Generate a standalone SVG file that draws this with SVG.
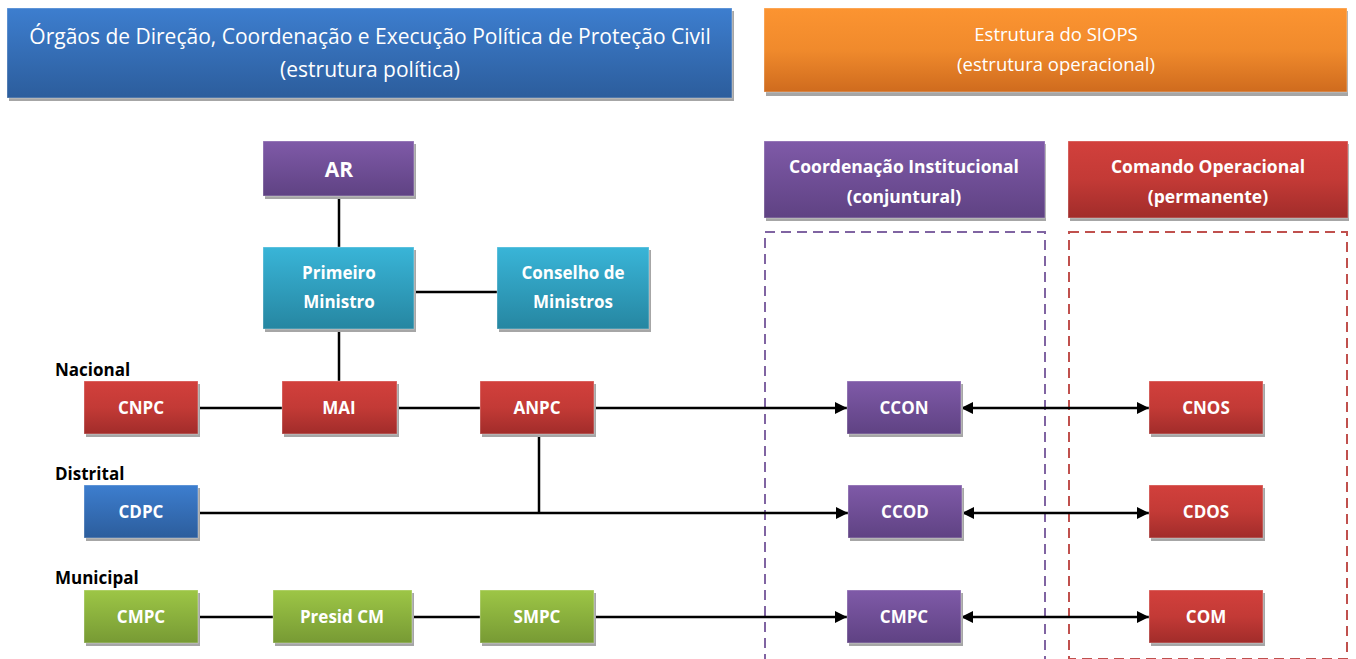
<svg xmlns="http://www.w3.org/2000/svg" width="1356" height="659" viewBox="0 0 1356 659">
  <defs>
    <linearGradient id="gRed" x1="0" y1="0" x2="0" y2="1">
      <stop offset="0" stop-color="#d2403c"/><stop offset="0.5" stop-color="#c33a36"/><stop offset="1" stop-color="#a12c2a"/>
    </linearGradient>
    <linearGradient id="gPurple" x1="0" y1="0" x2="0" y2="1">
      <stop offset="0" stop-color="#7f5aa8"/><stop offset="1" stop-color="#5f4283"/>
    </linearGradient>
    <linearGradient id="gBlue" x1="0" y1="0" x2="0" y2="1">
      <stop offset="0" stop-color="#3d7ecf"/><stop offset="1" stop-color="#2c5d9c"/>
    </linearGradient>
    <linearGradient id="gTeal" x1="0" y1="0" x2="0" y2="1">
      <stop offset="0" stop-color="#39b5d8"/><stop offset="1" stop-color="#2686a1"/>
    </linearGradient>
    <linearGradient id="gGreen" x1="0" y1="0" x2="0" y2="1">
      <stop offset="0" stop-color="#9dc646"/><stop offset="1" stop-color="#779a34"/>
    </linearGradient>
    <linearGradient id="gOrange" x1="0" y1="0" x2="0" y2="1">
      <stop offset="0" stop-color="#fc9431"/><stop offset="0.5" stop-color="#f08a2c"/><stop offset="1" stop-color="#cf6b1e"/>
    </linearGradient>
    <marker id="arrow" viewBox="0 0 12 12" refX="12" refY="6" markerWidth="12" markerHeight="12" markerUnits="userSpaceOnUse" orient="auto-start-reverse">
      <path d="M0,0 L12,6 L0,12 Z" fill="#000"/>
    </marker>
  </defs>
  <style>
    .shadow { fill: #a6a6a6; }
    .box { stroke: rgba(255,255,255,0.35); stroke-width: 1; }
    .t { font-family: "Open Sans", "Liberation Sans", sans-serif; fill: #fff; text-anchor: middle; }
    .b { font-weight: bold; }
    .lbl { font-family: "Open Sans", "Liberation Sans", sans-serif; font-weight: bold; font-size: 17px; fill: #000; }
    .ln { stroke: #000; stroke-width: 2.5; fill: none; }
    .ar { stroke: #000; stroke-width: 2.5; fill: none; marker-end: url(#arrow); }
    .bi { stroke: #000; stroke-width: 2.5; fill: none; marker-end: url(#arrow); marker-start: url(#arrow); }
  </style>

  <rect width="1356" height="659" fill="#fff"/>

  <!-- section frames -->
  <g id="frames">
    <rect x="765" y="232" width="280" height="440" fill="none" stroke="#8064a2" stroke-width="2" stroke-dasharray="10 6"/>
    <rect x="1069" y="232" width="278" height="427" fill="none" stroke="#c0504d" stroke-width="2" stroke-dasharray="10 6"/>
  </g>

  <!-- connectors -->
  <g id="connectors">
    <line class="ln" x1="339" y1="196" x2="339" y2="247"/>
    <line class="ln" x1="414" y1="292" x2="497" y2="292"/>
    <line class="ln" x1="339" y1="329" x2="339" y2="381"/>
    <line class="ln" x1="198" y1="408" x2="282" y2="408"/>
    <line class="ln" x1="397" y1="408" x2="480" y2="408"/>
    <line class="ar" x1="594" y1="408" x2="847" y2="408"/>
    <line class="ln" x1="539" y1="434" x2="539" y2="513"/>
    <line class="ar" x1="198" y1="513" x2="848" y2="513"/>
    <line class="ln" x1="198" y1="617" x2="273" y2="617"/>
    <line class="ln" x1="412" y1="617" x2="480" y2="617"/>
    <line class="ar" x1="594" y1="617" x2="847" y2="617"/>
    <line class="bi" x1="961" y1="408" x2="1149" y2="408"/>
    <line class="bi" x1="962" y1="513" x2="1149" y2="513"/>
    <line class="bi" x1="961" y1="617" x2="1149" y2="617"/>
  </g>

  <!-- headers -->
  <g id="hdr-politica">
    <rect class="shadow" x="9" y="11" width="725" height="90"/>
    <rect class="box" x="7" y="8" width="725" height="90" fill="url(#gBlue)"/>
    <text class="t" x="370" y="44" font-size="21">Órgãos de Direção, Coordenação e Execução Política de Proteção Civil</text>
    <text class="t" x="370" y="77" font-size="21">(estrutura política)</text>
  </g>
  <g id="hdr-siops">
    <rect class="shadow" x="766" y="11" width="582" height="85"/>
    <rect class="box" x="764" y="8" width="583" height="84" fill="url(#gOrange)"/>
    <text class="t" x="1056" y="41" font-size="18.5">Estrutura do SIOPS</text>
    <text class="t" x="1056" y="71" font-size="18.5">(estrutura operacional)</text>
  </g>
  <g id="hdr-coord">
    <rect class="shadow" x="766" y="144" width="280" height="77"/>
    <rect class="box" x="764" y="141" width="281" height="77" fill="url(#gPurple)"/>
    <text class="t b" x="904" y="173" font-size="17.5">Coordenação Institucional</text>
    <text class="t b" x="904" y="203" font-size="17.5">(conjuntural)</text>
  </g>
  <g id="hdr-comando">
    <rect class="shadow" x="1070" y="144" width="279" height="77"/>
    <rect class="box" x="1068" y="141" width="280" height="77" fill="url(#gRed)"/>
    <text class="t b" x="1208" y="173" font-size="17.5">Comando Operacional</text>
    <text class="t b" x="1208" y="203" font-size="17.5">(permanente)</text>
  </g>

  <!-- level labels -->
  <text class="lbl" x="55" y="376">Nacional</text>
  <text class="lbl" x="55" y="480">Distrital</text>
  <text class="lbl" x="55" y="584">Municipal</text>

  <!-- political nodes -->
  <g id="n-ar">
    <rect class="shadow" x="265" y="144" width="151" height="55"/>
    <rect class="box" x="263" y="141" width="151" height="55" fill="url(#gPurple)"/>
    <text class="t b" x="339" y="177" font-size="21">AR</text>
  </g>
  <g id="n-pm">
    <rect class="shadow" x="265" y="250" width="151" height="82"/>
    <rect class="box" x="263" y="247" width="151" height="82" fill="url(#gTeal)"/>
    <text class="t b" x="339" y="279" font-size="17">Primeiro</text>
    <text class="t b" x="339" y="308" font-size="17">Ministro</text>
  </g>
  <g id="n-cm">
    <rect class="shadow" x="499" y="250" width="152" height="82"/>
    <rect class="box" x="497" y="247" width="152" height="82" fill="url(#gTeal)"/>
    <text class="t b" x="573" y="279" font-size="17">Conselho de</text>
    <text class="t b" x="573" y="308" font-size="17">Ministros</text>
  </g>
  <g id="n-cnpc">
    <rect class="shadow" x="86" y="384" width="114" height="53"/>
    <rect class="box" x="84" y="381" width="114" height="53" fill="url(#gRed)"/>
    <text class="t b" x="141" y="414" font-size="17">CNPC</text>
  </g>
  <g id="n-mai">
    <rect class="shadow" x="284" y="384" width="115" height="53"/>
    <rect class="box" x="282" y="381" width="115" height="53" fill="url(#gRed)"/>
    <text class="t b" x="339" y="414" font-size="17">MAI</text>
  </g>
  <g id="n-anpc">
    <rect class="shadow" x="482" y="384" width="114" height="53"/>
    <rect class="box" x="480" y="381" width="114" height="53" fill="url(#gRed)"/>
    <text class="t b" x="537" y="414" font-size="17">ANPC</text>
  </g>
  <g id="n-cdpc">
    <rect class="shadow" x="86" y="488" width="114" height="53"/>
    <rect class="box" x="84" y="485" width="114" height="53" fill="url(#gBlue)"/>
    <text class="t b" x="141" y="518" font-size="17">CDPC</text>
  </g>
  <g id="n-cmpc">
    <rect class="shadow" x="86" y="593" width="114" height="53"/>
    <rect class="box" x="84" y="590" width="114" height="53" fill="url(#gGreen)"/>
    <text class="t b" x="141" y="623" font-size="17">CMPC</text>
  </g>
  <g id="n-presid">
    <rect class="shadow" x="275" y="593" width="139" height="53"/>
    <rect class="box" x="273" y="590" width="139" height="53" fill="url(#gGreen)"/>
    <text class="t b" x="342" y="623" font-size="17">Presid CM</text>
  </g>
  <g id="n-smpc">
    <rect class="shadow" x="482" y="593" width="114" height="53"/>
    <rect class="box" x="480" y="590" width="114" height="53" fill="url(#gGreen)"/>
    <text class="t b" x="537" y="623" font-size="17">SMPC</text>
  </g>

  <!-- operational nodes -->
  <g id="n-ccon">
    <rect class="shadow" x="849" y="384" width="114" height="53"/>
    <rect class="box" x="847" y="381" width="114" height="53" fill="url(#gPurple)"/>
    <text class="t b" x="904" y="414" font-size="17">CCON</text>
  </g>
  <g id="n-ccod">
    <rect class="shadow" x="850" y="488" width="114" height="53"/>
    <rect class="box" x="848" y="485" width="114" height="53" fill="url(#gPurple)"/>
    <text class="t b" x="905" y="518" font-size="17">CCOD</text>
  </g>
  <g id="n-cmpc-op">
    <rect class="shadow" x="849" y="593" width="114" height="53"/>
    <rect class="box" x="847" y="590" width="114" height="53" fill="url(#gPurple)"/>
    <text class="t b" x="904" y="623" font-size="17">CMPC</text>
  </g>
  <g id="n-cnos">
    <rect class="shadow" x="1151" y="384" width="114" height="53"/>
    <rect class="box" x="1149" y="381" width="114" height="53" fill="url(#gRed)"/>
    <text class="t b" x="1206" y="414" font-size="17">CNOS</text>
  </g>
  <g id="n-cdos">
    <rect class="shadow" x="1151" y="488" width="114" height="53"/>
    <rect class="box" x="1149" y="485" width="114" height="53" fill="url(#gRed)"/>
    <text class="t b" x="1206" y="518" font-size="17">CDOS</text>
  </g>
  <g id="n-com">
    <rect class="shadow" x="1151" y="593" width="114" height="53"/>
    <rect class="box" x="1149" y="590" width="114" height="53" fill="url(#gRed)"/>
    <text class="t b" x="1206" y="623" font-size="17">COM</text>
  </g>
</svg>
